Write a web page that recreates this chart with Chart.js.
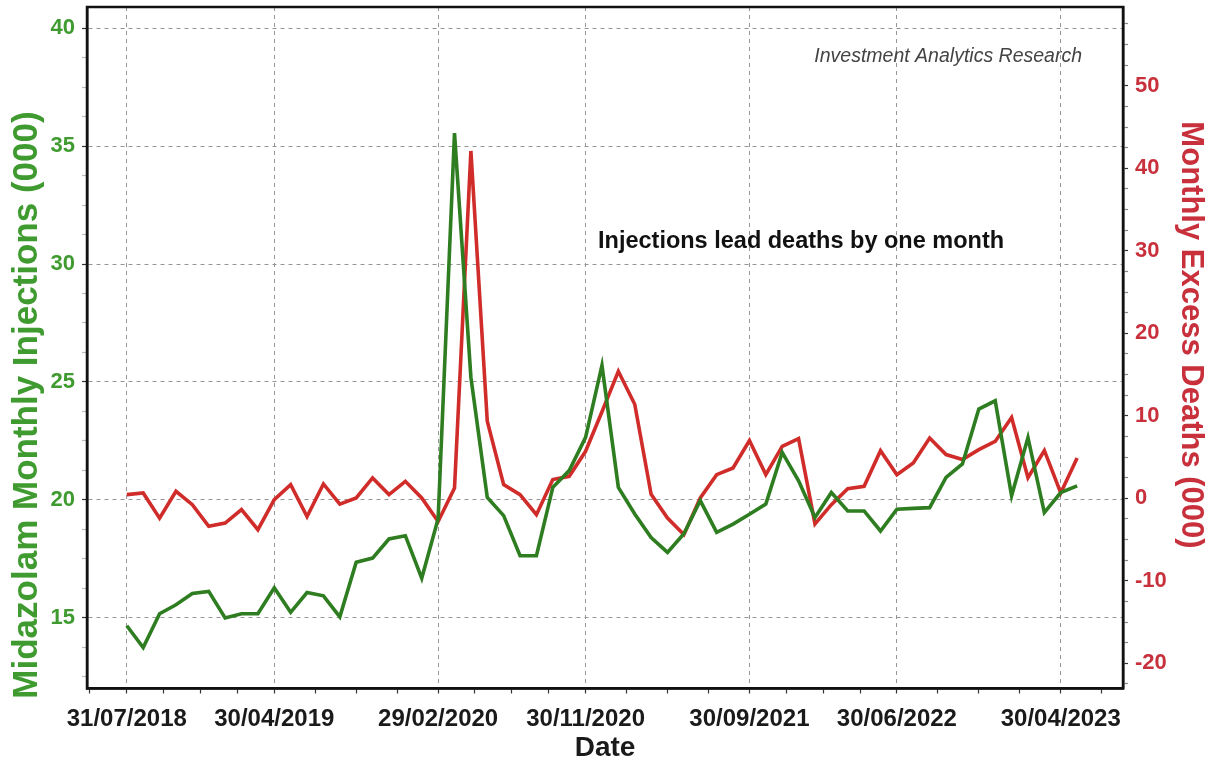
<!DOCTYPE html>
<html><head><meta charset="utf-8">
<script src="https://cdn.jsdelivr.net/npm/chart.js@4.4.0/dist/chart.umd.min.js"></script>
<style>html,body{margin:0;padding:0;background:#fff;}#wrap{width:1216px;height:762px;}</style>
</head><body><div id="wrap"><canvas id="c" width="1216" height="762"></canvas></div>
<script>
// ---- data ----
const months = ['2018-07','2018-08','2018-09','2018-10','2018-11','2018-12',
  '2019-01','2019-02','2019-03','2019-04','2019-05','2019-06','2019-07','2019-08','2019-09','2019-10','2019-11','2019-12',
  '2020-01','2020-02','2020-03','2020-04','2020-05','2020-06','2020-07','2020-08','2020-09','2020-10','2020-11','2020-12',
  '2021-01','2021-02','2021-03','2021-04','2021-05','2021-06','2021-07','2021-08','2021-09','2021-10','2021-11','2021-12',
  '2022-01','2022-02','2022-03','2022-04','2022-05','2022-06','2022-07','2022-08','2022-09','2022-10','2022-11','2022-12',
  '2023-01','2023-02','2023-03','2023-04','2023-05'];
const injections = [14.66,13.74,15.17,15.55,16.03,16.12,14.99,15.17,15.17,16.27,15.23,16.07,15.93,15.04,17.35,17.53,18.34,18.48,
  16.68,19.2,35.55,25.2,20.1,19.33,17.63,17.63,20.53,21.24,22.65,25.7,20.53,19.4,18.4,17.77,18.56,19.97,18.62,18.97,19.39,19.82,
  22.01,20.81,19.25,20.31,19.53,19.53,18.68,19.6,19.64,19.67,20.95,21.52,23.85,24.2,20.17,22.64,19.46,20.31,20.59];
const excessDeaths = [0.45,0.65,-2.4,0.85,-0.77,-3.4,-3.0,-1.37,-3.8,-0.16,1.66,-2.2,1.74,-0.7,0.04,2.47,0.45,2.06,
  0.04,-2.8,1.25,42.1,9.34,1.66,0.45,-1.98,2.27,2.67,5.7,10.5,15.4,11.4,0.5,-2.4,-4.4,0.04,2.87,3.68,7.0,2.87,
  6.3,7.24,-3.1,-0.77,1.17,1.46,5.78,2.87,4.28,7.3,5.3,4.7,5.9,6.9,9.8,2.5,5.8,0.65,4.9];
const xTickLabels = ['31/07/2018','30/04/2019','29/02/2020','30/11/2020','30/09/2021','30/06/2022','30/04/2023'];
const xTickMonths = ['2018-07','2019-04','2020-02','2020-11','2021-09','2022-06','2023-04'];
const leftTicks = [15,20,25,30,35,40];
const rightTicks = [-20,-10,0,10,20,30,40,50];
const leftTitle = 'Midazolam Monthly Injections (000)';
const rightTitle = 'Monthly Excess Deaths (000)';
const xTitle = 'Date';
const sourceNote = 'Investment Analytics Research';
const leadNote = 'Injections lead deaths by one month';

// ---- tick layout ----
const xTickPos = xTickMonths.map(m => months.indexOf(m));
function withMinors(majors, min, max){
  const out = [];
  const n = majors.length;
  const before = majors[1]-majors[0], after = majors[n-1]-majors[n-2];
  for (let k=1;k<=4;k++){ out.push(majors[0]-before*k/4); }
  for (let i=0;i<n;i++){
    out.push(majors[i]);
    const step = (i<n-1 ? majors[i+1]-majors[i] : after)/4;
    for (let k=1;k<4;k++){ out.push(majors[i]+step*k); }
  }
  return out.filter(v=>v>=min && v<=max).sort((a,b)=>a-b);
}
const X_MIN=-2.43, X_MAX=60.8, Y_MIN=12, Y_MAX=40.9, Y1_MIN=-23.05, Y1_MAX=59.55;
const xAll = withMinors(xTickPos, X_MIN, X_MAX);
const yAll = withMinors(leftTicks, Y_MIN, Y_MAX);
const y1All = withMinors(rightTicks, Y1_MIN, Y1_MAX);
const isIn = (arr,v) => arr.some(a => Math.abs(a-v)<1e-6);

const GREEN_LINE='#2e7d20', RED_LINE='#d02c2a', GREEN_TXT='#3f9b2f', RED_TXT='#c8303c';
const FONT = '"Liberation Sans", Arial, sans-serif';
const GRID='#959595';

const framePlugin = {
  id:'frame',
  afterDraw(chart){
    const {ctx, chartArea:a} = chart;
    ctx.save();
    ctx.strokeStyle='#111'; ctx.lineWidth=2.5;
    ctx.strokeRect(a.left, a.top, a.right-a.left, a.bottom-a.top);
    ctx.fillStyle='#444'; ctx.font='italic 19.5px '+FONT; ctx.textAlign='right'; ctx.textBaseline='middle';
    ctx.fillText(sourceNote, 1082, 57);
    ctx.fillStyle='#111'; ctx.font='bold 23.5px '+FONT; ctx.textAlign='left';
    ctx.fillText(leadNote, 598, 242);
    // axis titles
    ctx.textAlign='center'; ctx.textBaseline='middle';
    ctx.save();
    ctx.translate(27, 405); ctx.rotate(-Math.PI/2);
    ctx.fillStyle=GREEN_TXT; ctx.font='bold 35px '+FONT;
    ctx.fillText(leftTitle, 0, 0);
    ctx.restore();
    ctx.save();
    ctx.translate(1191, 335); ctx.rotate(Math.PI/2);
    ctx.fillStyle=RED_TXT; ctx.font='bold 31px '+FONT;
    ctx.fillText(rightTitle, 0, 0);
    ctx.restore();
    ctx.restore();
  }
};

new Chart(document.getElementById('c'), {
  type:'line',
  data:{datasets:[
    {label:leftTitle, data: months.map((m,i)=>({x:i,y:injections[i]})), yAxisID:'y',
     borderColor:GREEN_LINE, borderWidth:3.6, pointRadius:0, tension:0, fill:false},
    {label:rightTitle, data: months.map((m,i)=>({x:i,y:excessDeaths[i]})), yAxisID:'y1',
     borderColor:RED_LINE, borderWidth:3.6, pointRadius:0, tension:0, fill:false}
  ]},
  options:{
    responsive:false, animation:false, devicePixelRatio:1,
    layout:{padding:{top:7,left:0,right:0,bottom:0}},
    plugins:{legend:{display:false}, tooltip:{enabled:false}},
    scales:{
      x:{type:'linear', min:X_MIN, max:X_MAX,
        afterBuildTicks: s => { s.ticks = xAll.map(v=>({value:v})); },
        afterFit: s => { s.height = 73.5; s.paddingLeft = 0; s.paddingRight = 0; },
        ticks:{autoSkip:false, maxRotation:0, minRotation:0, padding:11, color:'#1a1a1a',
          font:{family:FONT, size:24, weight:'bold'},
          callback:(v)=>{ const k = xTickPos.findIndex(p=>Math.abs(p-v)<1e-6); return k>=0 ? xTickLabels[k] : ''; }},
        grid:{color: c => (c.tick && isIn(xTickPos,c.tick.value)) ? GRID : 'rgba(0,0,0,0)', lineWidth:1,
          tickColor:'#333', tickLength:5, tickWidth:1.2, tickBorderDash:[]},
        border:{color:'#111', width:2.5, dash:[4,4]},
        title:{display:true, text:xTitle, color:'#1a1a1a', font:{family:FONT, size:28, weight:'bold', lineHeight:1}, padding:{top:0,bottom:0}}
      },
      y:{type:'linear', position:'left', min:Y_MIN, max:Y_MAX,
        afterBuildTicks: s => { s.ticks = yAll.map(v=>({value:v})); },
        afterFit: s => { s.width = 87; s.paddingTop = 0; s.paddingBottom = 0; },
        ticks:{autoSkip:false, padding:7, color:GREEN_TXT, font:{family:FONT, size:22, weight:'bold'},
          callback:(v)=> isIn(leftTicks,v) ? String(v) : ''},
        grid:{color: c => (c.tick && isIn(leftTicks,c.tick.value)) ? GRID : 'rgba(0,0,0,0)', lineWidth:1,
          tickColor: c => (c.tick && isIn(leftTicks,c.tick.value)) ? '#333' : '#bbb', tickLength:5, tickWidth:1.2, tickBorderDash:[]},
        border:{color:'#111', width:2.5, dash:[4,4]},
        title:{display:false}
      },
      y1:{type:'linear', position:'right', min:Y1_MIN, max:Y1_MAX,
        afterBuildTicks: s => { s.ticks = y1All.map(v=>({value:v})); },
        afterFit: s => { s.width = 93; s.paddingTop = 0; s.paddingBottom = 0; },
        ticks:{autoSkip:false, padding:7, color:RED_TXT, font:{family:FONT, size:22, weight:'bold'},
          callback:(v)=> isIn(rightTicks,v) ? String(v) : ''},
        grid:{drawOnChartArea:false, color:'#555', tickColor: c => (c.tick && isIn(rightTicks,c.tick.value)) ? '#333' : '#888',
          tickLength:5, tickWidth:1.2, tickBorderDash:[]},
        border:{color:'#111', width:2.5},
        title:{display:false}
      }
    }
  },
  plugins:[framePlugin]
});
</script></body></html>
